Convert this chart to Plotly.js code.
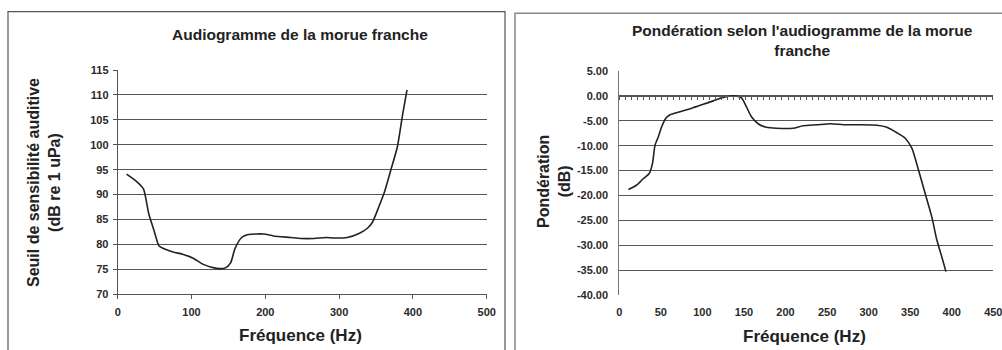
<!DOCTYPE html>
<html>
<head>
<meta charset="utf-8">
<script src="https://cdn.plot.ly/plotly-3.0.1.min.js"></script>
<style>html,body{margin:0;padding:0;background:#fff;}#chart{width:1002px;height:350px;}</style>
</head>
<body>
<div id="chart"></div>
<script>
// Left chart: hearing threshold (dB re 1 uPa) vs frequency (Hz)
const freqSeuil = [12, 25, 35, 42, 49, 56, 62, 75, 89, 103, 116, 134, 146, 153, 159, 168, 177, 198, 211, 234, 248, 266, 282, 293, 311, 327, 338, 345, 354, 361, 370, 379, 386, 392];
const seuil = [94.1, 92.7, 91.1, 86.2, 82.9, 79.7, 79.2, 78.5, 78.0, 77.2, 76.0, 75.2, 75.3, 76.3, 79.2, 81.4, 82.0, 82.1, 81.7, 81.4, 81.2, 81.2, 81.4, 81.3, 81.4, 82.2, 83.2, 84.4, 87.6, 90.3, 94.9, 99.6, 106.0, 111.0];

// Right chart: weighting (dB) vs frequency (Hz)
const freqPond = [11, 21, 29, 36, 40, 43, 47, 51, 56, 61, 73, 87, 101, 113, 125, 137, 147, 153, 159, 167, 177, 189, 209, 221, 238, 254, 270, 290, 310, 322, 334, 344, 352, 360, 368, 376, 382, 388, 393];
const ponderation = [-18.8, -17.9, -16.6, -15.6, -13.5, -9.9, -8.2, -6.2, -4.5, -3.8, -3.2, -2.5, -1.7, -1.0, -0.3, 0.0, -0.4, -2.2, -4.2, -5.6, -6.3, -6.5, -6.5, -6.0, -5.8, -5.6, -5.8, -5.8, -5.9, -6.3, -7.4, -8.5, -10.5, -14.9, -19.6, -24.3, -28.9, -32.3, -35.3];

// Tick labels of the right y axis (hyphen-minus as in the original)
const pondTickVals = [5, 0, -5, -10, -15, -20, -25, -30, -35, -40];
const pondTickText = ['5.00', '0.00', '-5.00', '-10.00', '-15.00', '-20.00', '-25.00', '-30.00', '-35.00', '-40.00'];

const titleLeft = "Audiogramme de la morue franche";
const titleRight = "Pondération selon l'audiogramme de la morue<br>franche";
const xTitle = "Fréquence (Hz)";
const yTitleLeft = "Seuil de sensibilité auditive<br>(dB re 1 uPa)";
const yTitleRight = "Pondération<br>(dB)";

const FONT = "Liberation Sans, Arial, sans-serif";
const W = 1002, H = 350;
const px = x => x / W;
const py = y => 1 - y / H;

const tickFont = {family: FONT, size: 11, color: '#2a2a2a', weight: 'bold'};
const gridCol = '#555';

const traces = [
  {x: freqSeuil, y: seuil, xaxis: 'x', yaxis: 'y', mode: 'lines',
   line: {color: '#222', width: 1.6, shape: 'spline', smoothing: 0.6}, hoverinfo: 'x+y'},
  {x: freqPond, y: ponderation, xaxis: 'x2', yaxis: 'y2', mode: 'lines',
   line: {color: '#222', width: 1.6, shape: 'spline', smoothing: 0.6}, hoverinfo: 'x+y'},
  {x: [], y: [], xaxis: 'x3', yaxis: 'y2', mode: 'lines', showlegend: false}
];

const layout = {
  width: W, height: H,
  margin: {l: 0, r: 0, t: 0, b: 0},
  paper_bgcolor: '#fff', plot_bgcolor: 'rgba(0,0,0,0)',
  showlegend: false,
  xaxis: {domain: [px(117.7), px(486.7)], anchor: 'y', range: [0, 500], dtick: 100,
    showgrid: false, zeroline: false, showline: true, linecolor: '#555', linewidth: 1,
    ticks: 'outside', ticklen: 4, tickcolor: '#555', tickfont: tickFont, ticklabelstandoff: 3,
    ticklabeloverflow: 'allow'},
  yaxis: {domain: [py(294.3), py(70)], anchor: 'x', range: [70, 115], dtick: 5,
    showgrid: true, gridcolor: gridCol, gridwidth: 1, zeroline: false,
    showline: true, linecolor: '#555', ticks: 'outside', ticklen: 4, tickcolor: '#555',
    tickfont: tickFont, ticklabelstandoff: 2},
  xaxis2: {domain: [px(619.3), px(993.3)], anchor: 'y2', range: [0, 450], dtick: 50,
    showgrid: false, zeroline: false, showline: false, ticks: '',
    tickfont: tickFont, ticklabelstandoff: 9, ticklabeloverflow: 'allow'},
  yaxis2: {domain: [py(295), py(71)], anchor: 'x2', range: [-40, 5],
    tickmode: 'array', tickvals: pondTickVals, ticktext: pondTickText,
    showgrid: true, gridcolor: gridCol, gridwidth: 1, zeroline: false,
    showline: true, linecolor: '#777', ticks: '', tickfont: tickFont, ticklabelstandoff: 8},
  xaxis3: {overlaying: 'x2', anchor: 'free', position: py(71 + 5 * 224 / 45), range: [0, 450],
    tick0: 0, dtick: 7.25, showgrid: false, zeroline: false, showline: true, linecolor: '#555',
    ticks: 'outside', ticklen: 3, tickcolor: '#555', showticklabels: false},
  shapes: [
    {type: 'rect', xref: 'paper', yref: 'paper', x0: px(8), x1: px(505), y0: py(360), y1: py(11.7),
     line: {color: '#555', width: 1.2}, fillcolor: 'rgba(0,0,0,0)', layer: 'below'},
    {type: 'rect', xref: 'paper', yref: 'paper', x0: px(515), x1: px(1010), y0: py(360), y1: py(13.3),
     line: {color: '#888', width: 1.5}, fillcolor: 'rgba(0,0,0,0)', layer: 'below'}
  ],
  annotations: [
    {text: titleLeft, xref: 'paper', yref: 'paper', x: px(300), y: py(35), showarrow: false,
     xanchor: 'center', yanchor: 'middle', font: {family: FONT, size: 15.5, color: '#222', weight: 'bold'}},
    {text: titleRight, xref: 'paper', yref: 'paper', x: px(802.5), y: py(40), showarrow: false,
     xanchor: 'center', yanchor: 'middle', font: {family: FONT, size: 15.5, color: '#222', weight: 'bold'}},
    {text: xTitle, xref: 'paper', yref: 'paper', x: px(300), y: py(335), showarrow: false,
     xanchor: 'center', yanchor: 'middle', font: {family: FONT, size: 17, color: '#222', weight: 'bold'}},
    {text: xTitle, xref: 'paper', yref: 'paper', x: px(804.5), y: py(336), showarrow: false,
     xanchor: 'center', yanchor: 'middle', font: {family: FONT, size: 17, color: '#222', weight: 'bold'}},
    {text: yTitleLeft, xref: 'paper', yref: 'paper', x: px(44), y: py(183), showarrow: false,
     textangle: -90, xanchor: 'center', yanchor: 'middle',
     font: {family: FONT, size: 16, color: '#222', weight: 'bold'}},
    {text: yTitleRight, xref: 'paper', yref: 'paper', x: px(554), y: py(182), showarrow: false,
     textangle: -90, xanchor: 'center', yanchor: 'middle',
     font: {family: FONT, size: 16, color: '#222', weight: 'bold'}}
  ]
};

Plotly.newPlot('chart', traces, layout, {staticPlot: true, displayModeBar: false});
</script>
</body>
</html>
